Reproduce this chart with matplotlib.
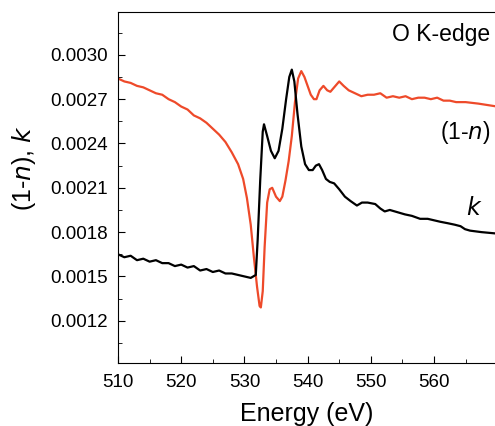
import matplotlib
matplotlib.use("Agg")
import matplotlib.pyplot as plt
from matplotlib.ticker import MultipleLocator, FormatStrFormatter

plt.rcParams['font.family'] = ['Liberation Sans', 'DejaVu Sans']

# --- k (absorcion), curva negra ---
energia_k = [510, 511, 512, 513, 514, 515, 516, 517, 518, 519, 520, 521, 522,
             523, 524, 525, 526, 527, 528, 529, 530, 531, 531.8,
             532.1, 532.5, 532.9, 533.1, 533.6, 534.2, 534.8, 535.4, 536.0, 536.6,
             537.1, 537.5, 537.9, 538.4, 539.0, 539.6, 540.2, 540.8, 541.3, 541.8,
             542.3, 542.9, 543.5, 544.2, 545.0, 545.9, 546.8, 547.8, 548.6, 549.5,
             550.7, 551.5, 552.2, 553.0, 553.8, 554.6, 555.4, 556.5, 557.8, 559.0,
             560.0, 561.0, 562.2, 563.3, 564.2, 564.9, 565.7, 567.5, 570]
k = [0.00165, 0.00163, 0.00164, 0.00161, 0.00162, 0.00160, 0.00161, 0.00159,
     0.00159, 0.00157, 0.00158, 0.00156, 0.00157, 0.00154, 0.00155, 0.00153,
     0.00154, 0.00152, 0.00152, 0.00151, 0.00150, 0.00149, 0.00151,
     0.00175, 0.00215, 0.00248, 0.00253, 0.00245, 0.00235, 0.00230, 0.00235,
     0.00250, 0.00270, 0.00285, 0.00290, 0.00282, 0.00260, 0.00238, 0.00226,
     0.00222, 0.00222, 0.00225, 0.00226, 0.00222, 0.00216, 0.00214, 0.00213,
     0.00209, 0.00204, 0.00201, 0.00198, 0.00200, 0.00200,
     0.00199, 0.00196, 0.00194, 0.00195, 0.00194, 0.00193, 0.00192, 0.00191,
     0.00189, 0.00189, 0.00188, 0.00187, 0.00186, 0.00185, 0.00184, 0.00182,
     0.00181, 0.00180, 0.00179]

# --- (1-n), curva roja ---
energia_n = [510, 511, 512, 513, 514, 515, 516, 517, 518, 519, 520, 521, 522,
             523, 524, 525, 526, 527, 528, 529,
             529.8, 530.4, 531.0, 531.5, 532.0, 532.4, 532.6, 532.9, 533.2,
             533.6, 534.0, 534.4, 535.0, 535.6, 536.0, 536.5, 537.0, 537.5,
             538.0, 538.5, 539.0, 539.5, 540.0, 540.5, 541.0, 541.4, 541.9,
             542.5, 543.1, 543.6, 544.2, 545.0, 545.7, 546.5, 547.5, 548.5,
             549.5, 550.5, 551.5, 552.5, 553.5, 554.5, 555.5, 556.5, 557.5,
             558.5, 559.5, 560.5, 561.5, 562.5, 563.5, 565, 567, 570]
uno_menos_n = [0.00284, 0.00282, 0.00281, 0.00279, 0.00278, 0.00276, 0.00274,
               0.00273, 0.00270, 0.00268, 0.00265, 0.00263, 0.00259,
               0.00257, 0.00254, 0.00250, 0.00246, 0.00241, 0.00234, 0.00226,
               0.00216, 0.00203, 0.00185, 0.00163, 0.00143, 0.00130, 0.00129,
               0.00140, 0.00170, 0.00200, 0.00209, 0.00210, 0.00204, 0.00201,
               0.00204, 0.00215, 0.00228, 0.00245, 0.00268, 0.00284, 0.00289,
               0.00285, 0.00279, 0.00273, 0.00270, 0.00270, 0.00276, 0.00279,
               0.00276, 0.00275, 0.00278, 0.00282, 0.00279, 0.00276, 0.00274,
               0.00272, 0.00273, 0.00273, 0.00274, 0.00271, 0.00272, 0.00271,
               0.00272, 0.00270, 0.00271, 0.00271, 0.00270, 0.00271, 0.00269,
               0.00269, 0.00268, 0.00268, 0.00267, 0.00265]

fig = plt.figure(figsize=(4.95, 4.26), dpi=100)
ax = fig.add_axes([0.2384, 0.1479, 0.7616, 0.8239])

ax.plot(energia_n, uno_menos_n, color='#ee4a2a', lw=1.6)
ax.plot(energia_k, k, color='black', lw=1.6)

ax.set_xlim(510, 569.65)
ax.set_ylim(0.000914, 0.00329)

ax.xaxis.set_major_locator(MultipleLocator(10))
ax.xaxis.set_minor_locator(MultipleLocator(5))
ax.yaxis.set_major_locator(MultipleLocator(0.0003))
ax.yaxis.set_minor_locator(MultipleLocator(0.00015))
ax.yaxis.set_major_formatter(FormatStrFormatter('%.4f'))
ax.tick_params(which='both', direction='in', labelsize=13.5)
ax.tick_params(which='major', length=5)
ax.tick_params(axis='x', which='major', pad=8)
ax.tick_params(axis='y', which='major', pad=7)
ax.tick_params(which='minor', length=3)
ax.spines['right'].set_visible(False)

ax.set_xlabel('Energy (eV)', fontsize=18, labelpad=8)
ax.set_ylabel('(1-$\\it{n}$), $\\it{k}$', fontsize=18)
ax.yaxis.set_label_coords(-0.212, 0.556)

ax.text(0.987, 0.97, 'O K-edge', transform=ax.transAxes, fontsize=16.5,
        ha='right', va='top')
ax.text(0.920, 0.658, '(1-$\\it{n}$)', transform=ax.transAxes, fontsize=16.5,
        ha='center', va='center')
ax.text(0.944, 0.44, '$\\it{k}$', transform=ax.transAxes, fontsize=17,
        ha='center', va='center')

fig.savefig('out.png', dpi=100)
